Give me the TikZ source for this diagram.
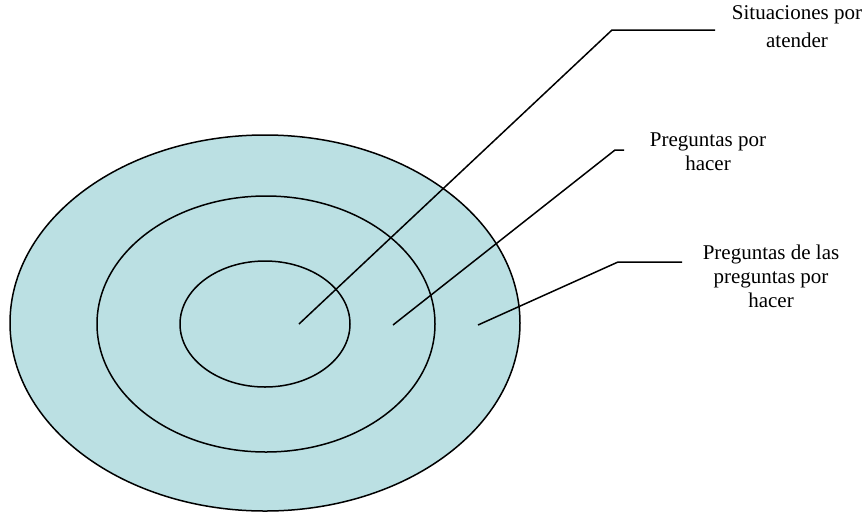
\documentclass[tikz,border=0pt]{standalone}
\usepackage{fontspec}
\setmainfont{Liberation Serif}
\usepackage{tikz}
\usetikzlibrary{positioning}
\definecolor{diana}{RGB}{187,224,227}

\begin{document}
\begin{tikzpicture}[x=0.5pt,y=-0.5pt,line width=0.75pt]
	\tikzstyle{ring}=[draw=black,fill=diana]
	\tikzstyle{leader}=[draw=black,line join=miter]
	\tikzstyle{label}=[align=center,inner sep=0pt,font=\fontsize{10.5}{12}\selectfont]
	\useasboundingbox (0,0) rectangle (867,515);
	
	% circles of the target
	\path[ring] (265,323) ellipse [x radius=127.5pt, y radius=94pt];
	\path[ring] (266,324) ellipse [x radius=84.5pt, y radius=64pt];
	\path[ring] (265,324) ellipse [x radius=42.5pt, y radius=31.5pt];
	
	% labels
	\node[label,font=\fontsize{10.5}{14}\selectfont] (S) at (797,27) {Situaciones por\\atender};
	\node[label] (P) at (708,152) {Preguntas por\\hacer};
	\node[label] (PP) at (771,276) {Preguntas de las\\preguntas por\\hacer};
	
	% leader lines
	\coordinate (s0) at (299,324);
	\coordinate (s1) at (612,30);
	\coordinate (s2) at (715,30);
	\coordinate (p0) at (393,325);
	\coordinate (p1) at (615,150);
	\coordinate (p2) at (624,150);
	\coordinate (q0) at (478,325);
	\coordinate (q1) at (618,262);
	\coordinate (q2) at (682,262);
	
	\draw[leader] (s0) -- (s1) -- (s2);
	\draw[leader] (p0) -- (p1) -- (p2);
	\draw[leader] (q0) -- (q1) -- (q2);
\end{tikzpicture}
\end{document}
